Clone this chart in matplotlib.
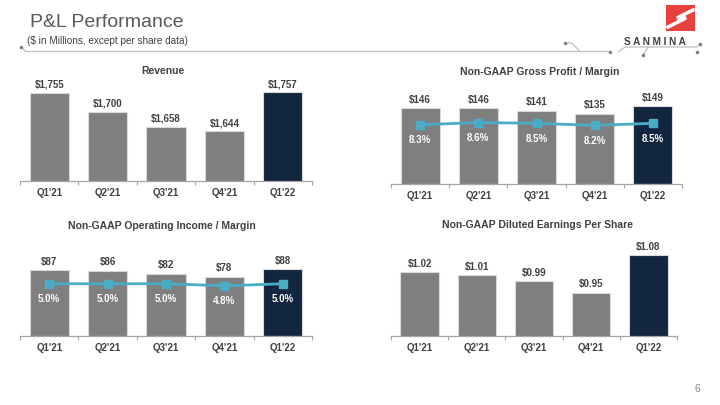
import matplotlib.pyplot as plt
import numpy as np
from matplotlib.patches import Rectangle

plt.rcParams['font.family'] = ['Liberation Sans Narrow', 'Liberation Sans', 'DejaVu Sans']

quarters = ["Q1'21", "Q2'21", "Q3'21", "Q4'21", "Q1'22"]
revenue = [1755, 1700, 1658, 1644, 1757]
gross_profit = [146, 146, 141, 135, 149]
gross_margin = [8.3, 8.6, 8.5, 8.2, 8.5]
op_income = [87, 86, 82, 78, 88]
op_margin = [5.0, 5.0, 5.0, 4.8, 5.0]
eps = [1.02, 1.01, 0.99, 0.95, 1.08]

GRAY = '#7f7f7f'
NAVY = '#13263f'
TEAL = '#4bacc6'
TXT = '#404040'
LINE = '#bfbfbf'

W, H = 720, 405
fig = plt.figure(figsize=(7.2, 4.05), dpi=100)

# overlay in pixel coords for header / decoration
ov = fig.add_axes([0, 0, 1, 1])
ov.set_xlim(0, W)
ov.set_ylim(H, 0)
ov.axis('off')


def px_axes(x0, x1, base, top):
    return fig.add_axes([x0 / W, 1 - base / H, (x1 - x0) / W, (base - top) / H])


def bar_panel(ax, values, ylim, fmt, title, tx, ty):
    colors = [GRAY] * (len(values) - 1) + [NAVY]
    x = np.arange(len(values))
    ax.bar(x, values, width=0.67, color=colors, edgecolor='#d9d9d9', linewidth=0.8, zorder=2)
    ax.set_ylim(*ylim)
    ax.set_xlim(-0.5, len(values) - 0.5)
    for s in ['top', 'left', 'right']:
        ax.spines[s].set_visible(False)
    ax.spines['bottom'].set_color('#a6a6a6')
    ax.spines['bottom'].set_linewidth(0.9)
    ax.set_yticks([])
    ax.set_xticks(x, quarters)
    ax.set_xticks(np.arange(-0.5, len(values)), minor=True)
    ax.tick_params(axis='x', which='major', length=0, pad=5, labelsize=7, labelcolor=TXT)
    ax.tick_params(axis='x', which='minor', length=3, color='#a6a6a6', width=0.8)
    for lab in ax.get_xticklabels():
        lab.set_fontweight('bold')
    ax.patch.set_alpha(0)
    for i, v in enumerate(values):
        ax.annotate(fmt(v), (i, v), xytext=(0, 6), textcoords='offset points',
                    ha='center', va='center', fontsize=7, fontweight='bold', color=TXT)
    fig.text(tx / W, 1 - ty / H, title, ha='center', va='center', fontsize=7.5,
             fontweight='bold', color=TXT)


def margin_line(ax, margins, ylim):
    ax2 = ax.twinx()
    x = np.arange(len(margins))
    ax2.plot(x, margins, color=TEAL, lw=2, marker='s', markersize=5.5, zorder=3)
    ax2.set_ylim(*ylim)
    ax2.axis('off')
    for i, m in enumerate(margins):
        ax2.annotate(f'{m:.1f}%', (i, m), xytext=(0, -11), textcoords='offset points',
                     ha='center', va='center', fontsize=7, fontweight='bold', color='white')


ax1 = px_axes(20, 312, 181, 80)
bar_panel(ax1, revenue, (1500, 1793), lambda v: f'${v:,}', 'Revenue', 163, 71)

ax2 = px_axes(391, 682, 184, 84)
bar_panel(ax2, gross_profit, (0, 192), lambda v: f'${v}', 'Non-GAAP Gross Profit / Margin', 540, 72)
margin_line(ax2, gross_margin, (0, 14.0))

ax3 = px_axes(20, 312, 336, 236)
bar_panel(ax3, op_income, (0, 131.6), lambda v: f'${v}', 'Non-GAAP Operating Income / Margin', 162, 226)
margin_line(ax3, op_margin, (0, 9.57))

ax4 = px_axes(391, 677, 336, 236)
bar_panel(ax4, eps, (0.8, 1.145), lambda v: f'${v:.2f}', 'Non-GAAP Diluted Earnings Per Share', 538, 225)

# header
ov.text(30, 27, 'P&L Performance', fontsize=14, color='#595959', family='Liberation Sans',
        va='baseline', ha='left')
ov.text(27, 41, '($ in Millions, except per share data)', fontsize=7.2, color='#404040',
        family='Liberation Sans', va='center', ha='left')
ov.text(697, 389, '6', fontsize=7, color='#7f7f7f', family='Liberation Sans', ha='center', va='center')

# circuit-style rule
ov.plot([21, 26, 610], [47, 51.5, 51.5], color=LINE, lw=0.9)
ov.plot([565, 572, 580], [43, 43, 51.5], color=LINE, lw=0.9)
ov.plot([619, 625, 697, 700], [51.5, 47, 47, 44], color=LINE, lw=0.9)
ov.plot([643, 648], [55, 47], color=LINE, lw=0.9)
ov.plot([21, 565, 610, 643, 697, 700], [47, 43, 51.5, 55, 52, 43.5], 'o', color='#7f7f7f', ms=1.5, lw=0)

# logo
ov.add_patch(Rectangle((666, 5), 29, 26, color='#e8423f', lw=0))
ov.plot([693, 677, 686, 668], [10, 18, 18, 27], color='white', lw=2.5, solid_joinstyle='miter')
ov.text(655, 42, 'S A N M I N A', fontsize=7.2, fontweight='bold', color=TXT,
        family='Liberation Sans', ha='center', va='center')

fig.savefig('out.png', dpi=100)
